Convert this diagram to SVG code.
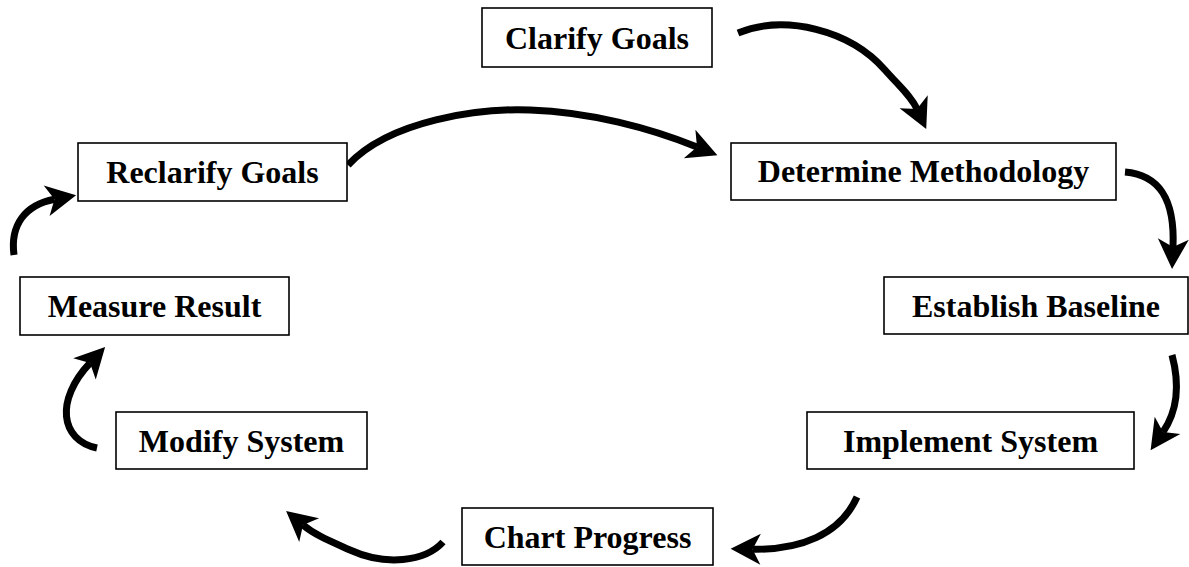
<svg xmlns="http://www.w3.org/2000/svg" width="1189" height="567" viewBox="0 0 1189 567">
<style>
.box{fill:#fff;stroke:#000;stroke-width:1.6}
.lbl{font-family:"Liberation Serif","Times New Roman",serif;font-weight:bold;font-size:32px;fill:#000;text-anchor:middle}
.arr{fill:none;stroke:#000;stroke-width:7;stroke-linecap:butt}
</style>
<defs>
<marker id="head" markerUnits="userSpaceOnUse" markerWidth="40" markerHeight="40" refX="0" refY="0" orient="auto" overflow="visible">
<path d="M22,0 L-8,-15.5 L0,0 L-8,15.5 Z" fill="#000"/>
</marker>
</defs>
<rect width="1189" height="567" fill="#fff"/>
<g id="connectors">
<path class="arr" marker-end="url(#head)" d="M738,33 C785,14 850,30 885,70 C900,87 911,96 917,109"/>
<path class="arr" marker-end="url(#head)" d="M348,165 C390,120 480,108 530,110 C590,112 650,128 697,147"/>
<path class="arr" marker-end="url(#head)" d="M1125,172 C1160,175 1175,200 1173,247"/>
<path class="arr" marker-end="url(#head)" d="M1172,355 C1180,385 1178,410 1163,432"/>
<path class="arr" marker-end="url(#head)" d="M857,497 C840,535 800,550 752.6,549.2"/>
<path class="arr" marker-end="url(#head)" d="M443,542 C425,562 385,566 350,550 C330,541 315,535 303,525"/>
<path class="arr" marker-end="url(#head)" d="M97,448 C60,440 55,400 90,363"/>
<path class="arr" marker-end="url(#head)" d="M14,255 C10,225 25,205 54.5,199.3"/>
</g>
<g id="clarify"><rect class="box" x="482" y="8" width="230" height="59"/><text class="lbl" x="597" y="49">Clarify Goals</text></g>
<g id="determine"><rect class="box" x="731" y="143" width="385" height="57"/><text class="lbl" x="923.5" y="182">Determine Methodology</text></g>
<g id="reclarify"><rect class="box" x="78" y="143" width="269" height="58"/><text class="lbl" x="212.5" y="182.5">Reclarify Goals</text></g>
<g id="establish"><rect class="box" x="884" y="277" width="304" height="57"/><text class="lbl" x="1036" y="316.5">Establish Baseline</text></g>
<g id="measure"><rect class="box" x="20" y="277" width="269" height="58"/><text class="lbl" x="154.5" y="316.5">Measure Result</text></g>
<g id="implement"><rect class="box" x="807" y="412" width="327" height="57"/><text class="lbl" x="970.5" y="452">Implement System</text></g>
<g id="modify"><rect class="box" x="116" y="412" width="251" height="57"/><text class="lbl" x="241.5" y="452">Modify System</text></g>
<g id="chart"><rect class="box" x="462" y="508" width="251" height="57"/><text class="lbl" x="587.5" y="547.5">Chart Progress</text></g>
</svg>
